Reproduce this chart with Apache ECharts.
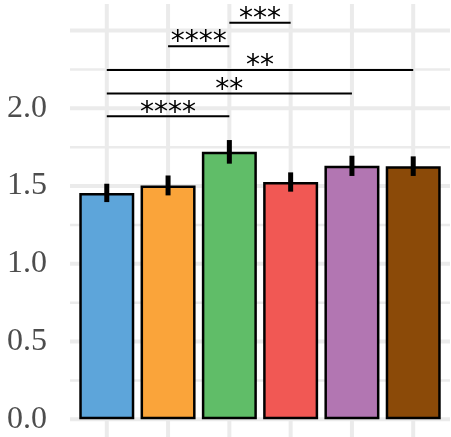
<!DOCTYPE html>
<html>
<head>
<meta charset="utf-8">
<script src="https://cdn.jsdelivr.net/npm/echarts@6/dist/echarts.min.js"></script>
<style>html,body{margin:0;padding:0;background:#fff}#c{width:451px;height:437px}</style>
</head>
<body>
<div id="c"></div>
<script>
const categories = ['G1', 'G2', 'G3', 'G4', 'G5', 'G6'];
const means = [1.456, 1.504, 1.72, 1.526, 1.63, 1.628];
const errors = [0.059, 0.064, 0.076, 0.062, 0.065, 0.063];
const barColors = ['#5DA5DA', '#FAA43A', '#60BD68', '#F15854', '#B276B2', '#8B4A08'];
const yTickValues = [0, 0.5, 1.0, 1.5, 2.0];
const majorGrid = [0, 0.5, 1.0, 1.5, 2.0, 2.5];
const minorGrid = [0.25, 0.75, 1.25, 1.75, 2.25];
const bracketFrom = [0, 0, 0, 1, 2];
const bracketTo = [2, 4, 5, 2, 3];
const bracketY = [1.949, 2.096, 2.246, 2.40, 2.55];
const bracketLabels = ['****', '**', '**', '****', '***'];

const pos = categories.map((c, i) => i + 1);
const chart = echarts.init(document.getElementById('c'));

// grid lines: [kind, value, width]  kind 0 = horizontal, 1 = vertical
const gridData = [].concat(
  majorGrid.map(v => [0, v, 4]),
  minorGrid.map(v => [0, v, 2.5]),
  pos.map(p => [1, p, 4])
);

chart.setOption({
  animation: false,
  grid: { left: 70, right: 1, top: 4, bottom: 0 },
  xAxis: {
    type: 'value', min: 0.4, max: 6.6,
    axisLine: { show: false }, axisTick: { show: false },
    axisLabel: { show: false }, splitLine: { show: false }
  },
  yAxis: {
    type: 'value', min: -0.114, max: 2.671,
    axisLine: { show: false }, axisTick: { show: false },
    splitLine: { show: false },
    axisLabel: {
      customValues: yTickValues,
      formatter: v => v.toFixed(1),
      fontFamily: 'Liberation Serif', fontSize: 32, color: '#4D4D4D', margin: 23
    }
  },
  series: [
    {
      type: 'custom', z: 0, silent: true, clip: false,
      data: gridData,
      encode: { x: -1, y: -1 },
      renderItem: (params, api) => {
        const cs = params.coordSys;
        const kind = api.value(0), v = api.value(1), w = api.value(2);
        let shape;
        if (kind === 0) {
          const y = api.coord([1, v])[1];
          shape = { x1: cs.x, y1: y, x2: cs.x + cs.width, y2: y };
        } else {
          const x = api.coord([v, 0])[0];
          shape = { x1: x, y1: cs.y, x2: x, y2: cs.y + cs.height };
        }
        return { type: 'line', shape, style: { stroke: '#EBEBEB', lineWidth: w } };
      }
    },
    {
      type: 'bar', z: 2, barWidth: 55,
      data: means.map((m, i) => ({
        value: [pos[i], m],
        itemStyle: { color: barColors[i], borderColor: '#000', borderWidth: 2.5 }
      }))
    },
    {
      type: 'custom', z: 3,
      data: means.map((m, i) => [pos[i], m - errors[i], m + errors[i]]),
      renderItem: (params, api) => {
        const a = api.coord([api.value(0), api.value(1)]);
        const b = api.coord([api.value(0), api.value(2)]);
        return { type: 'line', shape: { x1: a[0], y1: a[1], x2: b[0], y2: b[1] },
                 style: { stroke: '#000', lineWidth: 5 } };
      }
    },
    {
      type: 'custom', z: 4,
      data: bracketLabels.map((l, i) => [pos[bracketFrom[i]], pos[bracketTo[i]], bracketY[i]]),
      renderItem: (params, api) => {
        const a = api.coord([api.value(0), api.value(2)]);
        const b = api.coord([api.value(1), api.value(2)]);
        const label = bracketLabels[params.dataIndex];
        return { type: 'group', children: [
          { type: 'line', shape: { x1: a[0], y1: a[1], x2: b[0], y2: b[1] },
            style: { stroke: '#000', lineWidth: 2 } },
          { type: 'text', x: (a[0] + b[0]) / 2, y: a[1] - 3,
            style: { text: label, fontFamily: 'DejaVu Sans', fontSize: 28, fill: '#000',
                     align: 'center', verticalAlign: 'middle' } }
        ] };
      }
    }
  ]
});
</script>
</body>
</html>
